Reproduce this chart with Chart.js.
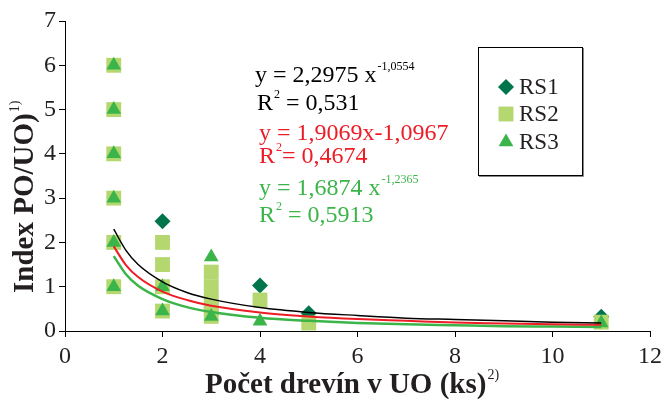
<!DOCTYPE html>
<html>
<head>
<meta charset="utf-8">
<script src="https://cdn.jsdelivr.net/npm/chart.js@4.4.1/dist/chart.umd.min.js"></script>
<style>
  html, body { margin: 0; padding: 0; background: #fff; }
  #wrap { width: 667px; height: 403px; position: relative; }
</style>
</head>
<body>
<div id="wrap"><canvas id="chart"></canvas></div>
<script>
// measured points per series: x = number of trees, y = index
const rs1X = [2, 4, 5, 11];
const rs1Y = [2.48, 1.03, 0.4, 0.32];

const rs2X = [1, 1, 1, 1, 1, 1, 2, 2, 2, 2, 3, 3, 3, 3, 3, 4, 5, 11];
const rs2Y = [1, 2, 3, 4, 5, 6, 2, 1.5, 1, 0.45, 1.33, 1, 0.67, 0.5, 0.33, 0.7, 0.18, 0.2];

const rs3X = [1, 1, 1, 1, 1, 1, 2, 2, 3, 3, 4, 11];
const rs3Y = [1, 2, 3, 4, 5, 6, 1, 0.45, 1.67, 0.33, 0.22, 0.18];

// power trend lines, sampled along x
const fitX = [1, 1.25, 1.5, 2, 2.5, 3, 4, 5, 6, 7, 8, 9, 10, 11];
const fitBlack = [2.30, 1.82, 1.50, 1.11, 0.87, 0.72, 0.53, 0.42, 0.35, 0.29, 0.26, 0.23, 0.20, 0.18];
const fitRed = [1.91, 1.49, 1.22, 0.89, 0.70, 0.57, 0.42, 0.33, 0.27, 0.23, 0.19, 0.17, 0.15, 0.14];
const fitGreen = [1.69, 1.28, 1.02, 0.72, 0.54, 0.43, 0.30, 0.23, 0.18, 0.15, 0.13, 0.11, 0.10, 0.09];

const seriesNames = ['RS1', 'RS2', 'RS3'];
const xTicks = [0, 2, 4, 6, 8, 10, 12];

const C_RS1 = '#00744a';
const C_RS2 = '#b4d770';
const C_RS3 = '#3bb54a';
const C_RED = '#ee1c25';
const C_TXT = '#231f20';
const SERIF = '"Liberation Serif", "Times New Roman", serif';

const pts = (xs, ys) => xs.map((x, i) => ({ x: x, y: ys[i] }));

function lineSet(ys, color, width, order) {
  return {
    type: 'line',
    data: pts(fitX, ys),
    borderColor: color,
    borderWidth: width,
    pointRadius: 0,
    fill: false,
    cubicInterpolationMode: 'monotone',
    order: order
  };
}

function pointSet(label, xs, ys, color, style, r, order) {
  return {
    label: label,
    data: pts(xs, ys),
    pointStyle: style,
    pointRadius: r,
    pointHoverRadius: r,
    pointBackgroundColor: color,
    pointBorderColor: color,
    pointBorderWidth: 0,
    showLine: false,
    clip: false,
    order: order
  };
}

// draws a run of text pieces, each with its own font and vertical shift
function drawRuns(ctx, x, y, runs, color) {
  ctx.fillStyle = color;
  ctx.textBaseline = 'alphabetic';
  ctx.textAlign = 'left';
  runs.forEach(r => {
    ctx.font = r.font;
    ctx.fillText(r.t, x + (r.dx || 0), y + (r.dy || 0));
    x += ctx.measureText(r.t).width + (r.dx || 0);
  });
}

const big = '24px ' + SERIF;
const sup = '12px ' + SERIF;

const overlay = {
  id: 'overlay',
  afterDraw(chart) {
    const ctx = chart.ctx;
    ctx.save();

    // trend line equations
    drawRuns(ctx, 255, 82, [{ t: 'y = 2,2975 x', font: big }, { t: '-1,0554', font: sup, dy: -12, dx: 1 }], '#000');
    drawRuns(ctx, 257, 110, [{ t: 'R', font: big }, { t: '2', font: sup, dy: -12, dx: 1 }, { t: ' = 0,531', font: big }], '#000');
    drawRuns(ctx, 259, 140, [{ t: 'y = 1,9069x-1,0967', font: big }], C_RED);
    drawRuns(ctx, 259, 163, [{ t: 'R', font: big }, { t: '2', font: sup, dy: -12, dx: 1 }, { t: '= 0,4674', font: big }], C_RED);
    drawRuns(ctx, 259, 195, [{ t: 'y = 1,6874 x', font: big }, { t: '-1,2365', font: sup, dy: -12, dx: 1 }], C_RS3);
    drawRuns(ctx, 259, 222, [{ t: 'R', font: big }, { t: '2', font: sup, dy: -12, dx: 1 }, { t: ' = 0,5913', font: big }], C_RS3);

    // legend box
    ctx.fillStyle = '#fff';
    ctx.fillRect(478, 47, 104, 128);
    ctx.strokeStyle = '#888';
    ctx.lineWidth = 1;
    ctx.beginPath();
    ctx.moveTo(583.5, 48); ctx.lineTo(583.5, 176.5); ctx.lineTo(479, 176.5);
    ctx.stroke();
    ctx.strokeStyle = '#000';
    ctx.strokeRect(478.5, 47.5, 104, 128);

    const leg = [
      { style: 'rectRot', color: C_RS1, r: 8, y: 87 },
      { style: 'rect', color: C_RS2, r: 10.5, y: 114 },
      { style: 'triangle', color: C_RS3, r: 8.5, y: 142 }
    ];
    leg.forEach((l, i) => {
      ctx.fillStyle = l.color;
      ctx.strokeStyle = l.color;
      Chart.helpers.drawPoint(ctx, { pointStyle: l.style, radius: l.r, borderWidth: 0 }, 506, l.y);
      ctx.fillStyle = C_TXT;
      ctx.font = '23px ' + SERIF;
      ctx.textBaseline = 'middle';
      ctx.textAlign = 'left';
      ctx.fillText(seriesNames[i], 519, l.y + 1);
    });

    // axis titles
    const bold = 'bold 29px ' + SERIF;
    const sup2 = '14px ' + SERIF;
    drawRuns(ctx, 205, 393, [{ t: 'Počet drevín v UO (ks)', font: bold }, { t: '2)', font: sup2, dy: -14, dx: 1 }], C_TXT);

    ctx.translate(33, 293);
    ctx.rotate(-Math.PI / 2);
    drawRuns(ctx, 0, 0, [{ t: 'Index PO/UO)', font: bold }, { t: '1)', font: sup2, dy: -14, dx: 1 }], C_TXT);

    ctx.restore();
  }
};

const tickFont = { family: SERIF, size: 24 };

new Chart(document.getElementById('chart').getContext('2d'), {
  type: 'scatter',
  data: {
    datasets: [
      lineSet(fitBlack, '#000', 1.5, 0),
      lineSet(fitRed, C_RED, 2, 1),
      lineSet(fitGreen, C_RS3, 2.5, 2),
      pointSet(seriesNames[2], rs3X, rs3Y, C_RS3, 'triangle', 8.5, 3),
      pointSet(seriesNames[1], rs2X, rs2Y, C_RS2, 'rect', 10.5, 4),
      pointSet(seriesNames[0], rs1X, rs1Y, C_RS1, 'rectRot', 8, 5)
    ]
  },
  options: {
    responsive: true,
    maintainAspectRatio: false,
    animation: false,
    events: [],
    layout: { padding: { left: 0, top: 21, right: 13, bottom: 0 } },
    plugins: {
      legend: { display: false },
      tooltip: { enabled: false }
    },
    scales: {
      x: {
        type: 'linear',
        min: 0,
        max: 12,
        afterBuildTicks: axis => { axis.ticks = xTicks.map(v => ({ value: v })); },
        afterFit: axis => { axis.height = 72; },
        ticks: { font: tickFont, color: C_TXT, padding: 5, maxRotation: 0 },
        grid: { drawOnChartArea: false, tickLength: 6, color: '#000', tickWidth: 1 },
        border: { color: '#000', width: 1 }
      },
      y: {
        min: 0,
        max: 7,
        afterFit: axis => { axis.width = 65; },
        ticks: { stepSize: 1, font: tickFont, color: C_TXT, padding: 3 },
        grid: { drawOnChartArea: false, tickLength: 6, color: '#000', tickWidth: 1 },
        border: { color: '#000', width: 1 }
      }
    }
  },
  plugins: [overlay]
});
</script>
</body>
</html>
